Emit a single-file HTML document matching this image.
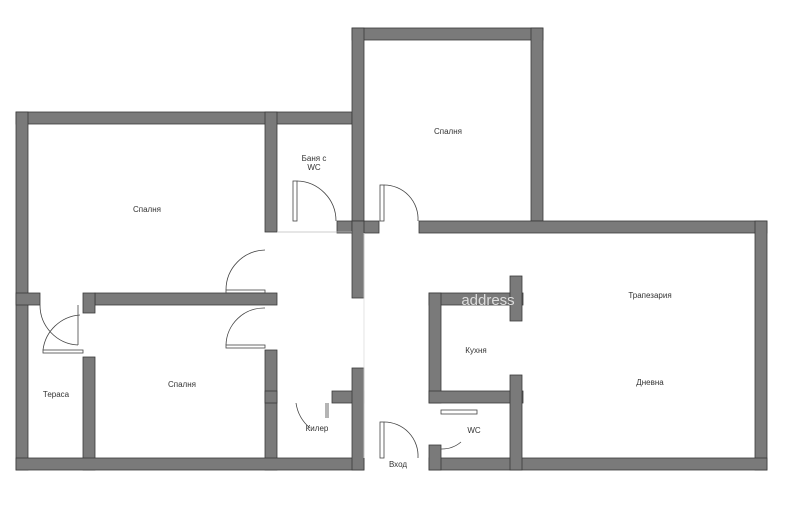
<!DOCTYPE html>
<html><head><style>body{margin:0;background:#fff}svg{display:block}text{font-family:"Liberation Sans",sans-serif;font-size:8px;fill:#333;text-anchor:middle}</style></head>
<body>
<svg width="800" height="519" viewBox="0 0 800 519" xmlns="http://www.w3.org/2000/svg">
<g fill="#7a7a7a" stroke="#3a3a3a" stroke-width="0.8">
<!-- top-left bedroom -->
<rect x="16" y="112" width="336" height="12"/>
<rect x="16" y="112" width="12" height="358"/>
<rect x="265" y="112" width="12" height="120"/>
<rect x="95" y="293" width="182" height="12"/>
<rect x="16" y="293" width="24" height="12"/>
<rect x="83" y="293" width="12" height="20"/>
<rect x="83" y="357" width="12" height="113"/>
<rect x="265" y="350" width="12" height="120"/>
<!-- bath -->
<rect x="337" y="221" width="27" height="12"/>
<!-- top bedroom -->
<rect x="352" y="28" width="191" height="12"/>
<rect x="352" y="28" width="12" height="205"/>
<rect x="531" y="28" width="12" height="193"/>
<rect x="352" y="221" width="27" height="12"/>
<rect x="352" y="221" width="12" height="77"/>
<!-- right block -->
<rect x="419" y="221" width="348" height="12"/>
<rect x="755" y="221" width="12" height="249"/>
<!-- bottom -->
<rect x="16" y="458" width="348" height="12"/>
<rect x="429" y="458" width="338" height="12"/>
<!-- kiler -->
<rect x="265" y="391" width="12" height="12"/>
<rect x="332" y="391" width="32" height="12"/>
<rect x="352" y="368" width="12" height="102"/>
<!-- kitchen -->
<rect x="429" y="293" width="94" height="12"/>
<rect x="429" y="293" width="12" height="110"/>
<rect x="429" y="391" width="94" height="12"/>
<rect x="510" y="276" width="12" height="45"/>
<rect x="510" y="375" width="12" height="95"/>
<rect x="429" y="445" width="12" height="25"/>
</g>
<g fill="none" stroke="#444" stroke-width="0.8">
<!-- doors -->
<rect x="293" y="181" width="4" height="40"/><path d="M297 181 A40 40 0 0 1 336 221"/>
<rect x="380" y="185" width="4" height="36"/><path d="M384 185 A34 34 0 0 1 418 221"/>
<rect x="226" y="290" width="39" height="3"/><path d="M226 290 A40 40 0 0 1 265 250"/>
<rect x="226" y="345" width="39" height="3"/><path d="M226 345 A38 38 0 0 1 265 308"/>
<rect x="43" y="350" width="40" height="3"/><path d="M43 350 A40 40 0 0 1 80 315"/>
<path d="M40 305 A40 40 0 0 0 78 345"/><line x1="78" y1="305" x2="78" y2="345"/>
<rect x="380" y="422" width="4" height="36"/><path d="M384 422 A34 34 0 0 1 418 458"/>
<path d="M296 403 A40 40 0 0 0 310 428"/><line x1="326" y1="403" x2="326" y2="418"/><line x1="328" y1="403" x2="328" y2="418"/>
<rect x="441" y="410" width="36" height="4"/><path d="M441 449 A30 30 0 0 0 461 442"/>
<line x1="277" y1="232" x2="352" y2="232" stroke="#bbb"/>
<line x1="364" y1="233" x2="364" y2="458" stroke="#ddd"/>
</g>
<text x="147" y="212">Спалня</text>
<text x="314" y="161">Баня с</text>
<text x="314" y="170">WC</text>
<text x="448" y="134">Спалня</text>
<text x="650" y="298">Трапезария</text>
<text x="476" y="353">Кухня</text>
<text x="650" y="385">Дневна</text>
<text x="56" y="397">Тераса</text>
<text x="182" y="387">Спалня</text>
<text x="317" y="431">Килер</text>
<text x="474" y="433">WC</text>
<text x="398" y="467">Вход</text>
<text x="488" y="305" style="font-size:15px;fill:#ddd">address</text>
</svg>
</body></html>
